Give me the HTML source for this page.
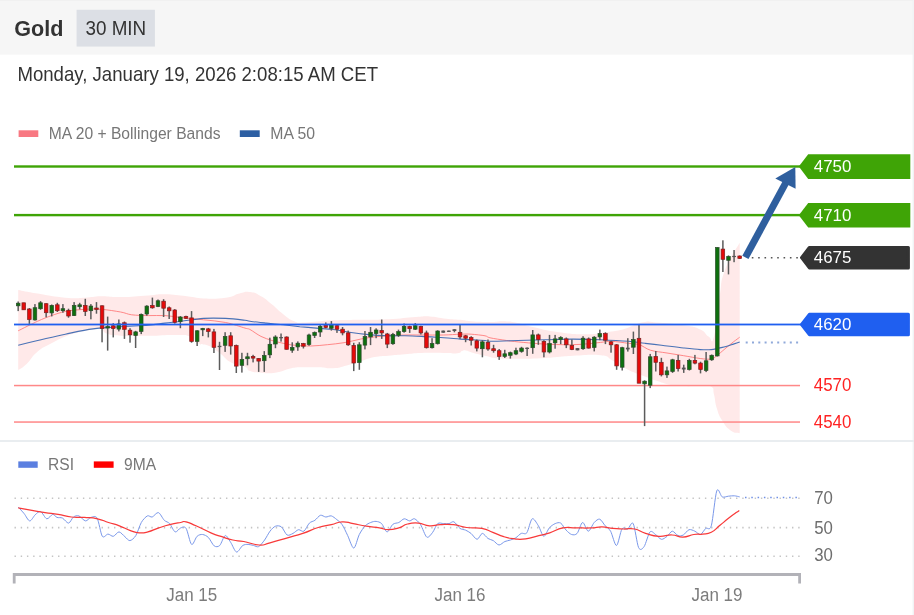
<!DOCTYPE html>
<html><head><meta charset="utf-8"><title>Gold 30 MIN</title>
<style>
html,body{margin:0;padding:0;background:#fff}
body{width:914px;height:615px;overflow:hidden;font-family:"Liberation Sans",sans-serif}
svg{display:block}
text{font-family:"Liberation Sans",sans-serif}
</style></head><body>
<svg width="914" height="615" viewBox="0 0 914 615">
<defs><filter id="soft" x="-2%" y="-2%" width="104%" height="104%" color-interpolation-filters="sRGB"><feGaussianBlur stdDeviation="0.42"/></filter></defs>
<g filter="url(#soft)">
<rect x="-10" y="-10" width="934" height="635" fill="#fff"/>
<rect x="-10" y="-10" width="934" height="64.6" fill="#f6f6f6"/>
<rect x="-10" y="-10" width="934" height="11" fill="#f1f1f1"/>
<rect x="912.6" y="-10" width="11.4" height="635" fill="#f1f3f5"/>
<text transform="translate(14.3,36.2) scale(1,1.05)" font-size="21.6" font-weight="bold" fill="#333">Gold</text>
<rect x="76.6" y="9.8" width="78.3" height="36.8" fill="#dcdfe5"/>
<text transform="translate(115.8,34.9) scale(1,1.05)" font-size="18.85" text-anchor="middle" fill="#333">30 MIN</text>
<text transform="translate(17.4,81.4) scale(1,1.05)" font-size="18.62" fill="#333">Monday, January 19, 2026 2:08:15 AM CET</text>
<rect x="18.6" y="130.3" width="19.7" height="6.7" fill="#f87882"/>
<text transform="translate(48.8,138.8) scale(1,1.05)" font-size="15.65" fill="#777">MA 20 + Bollinger Bands</text>
<rect x="239.8" y="130.3" width="19.9" height="6.7" fill="#2d5fa3"/>
<text transform="translate(270.3,138.8) scale(1,1.05)" font-size="15.8" fill="#777">MA 50</text>

<path d="M18.2,289.9 C23.4,290.9 25.1,291.4 37.7,293.5 C50.3,295.6 52.8,296.6 65.3,297.7 C77.8,298.8 75.1,298.1 84.7,297.7 C94.3,297.3 91.7,296.5 101.3,296.3 C110.9,296.1 108.1,297.3 120.6,297.1 C133.1,296.9 136.5,296.1 148.3,295.4 C160.1,294.7 154.6,294.1 164.9,294.3 C175.2,294.5 176.7,295.2 187.0,296.3 C197.3,297.4 193.3,298.1 203.6,298.5 C213.9,298.9 216.1,299.0 225.7,297.7 C235.3,296.4 233.0,295.0 239.5,293.5 C246.0,292.0 244.3,291.4 250.0,292.1 C255.7,292.8 255.1,293.0 261.0,296.3 C266.9,299.6 266.2,299.8 272.1,304.6 C278.0,309.4 277.3,309.8 283.2,314.2 C289.1,318.6 288.3,319.0 294.2,321.2 C300.1,323.4 295.0,322.7 305.3,322.5 C315.6,322.3 318.3,321.0 333.0,320.3 C347.7,319.6 345.9,320.1 360.6,319.8 C375.3,319.5 373.6,319.9 388.3,319.2 C403.0,318.5 404.8,317.7 415.9,317.0 C427.0,316.3 422.4,316.1 429.8,316.5 C437.2,316.9 435.5,317.5 443.6,318.4 C451.7,319.3 452.8,319.1 460.2,319.8 C467.6,320.5 463.3,320.6 471.2,321.2 C479.1,321.8 481.3,322.0 490.0,322.0 C498.7,322.0 496.4,320.9 503.8,321.2 C511.2,321.5 510.3,321.6 517.7,323.1 C525.1,324.6 520.5,324.3 531.5,326.7 C542.5,329.1 544.4,330.2 559.1,332.2 C573.8,334.2 574.2,334.2 586.8,334.2 C599.4,334.2 596.6,333.5 606.2,332.2 C615.8,330.9 615.3,331.3 622.7,329.5 C630.1,327.7 627.9,327.3 633.8,325.3 C639.7,323.3 639.0,322.7 644.9,322.0 C650.8,321.3 645.6,321.6 655.9,322.5 C666.2,323.4 671.8,323.4 683.6,325.3 C695.4,327.2 693.6,326.5 700.2,329.5 C706.8,332.5 704.8,334.6 708.5,336.4 C712.2,338.2 711.1,346.7 714.0,336.4 C716.9,326.1 716.6,315.4 719.5,297.7 C722.4,280.0 719.6,284.7 725.0,270.0 C730.4,255.3 735.8,250.0 739.7,242.7 L739.7,433.2 C737.3,432.5 735.2,433.7 730.6,430.4 C726.0,427.1 726.0,426.6 722.3,420.7 C718.6,414.8 719.0,415.3 716.8,408.3 C714.6,401.3 715.5,400.2 714.0,394.4 C712.5,388.6 714.9,388.9 711.2,386.7 C707.5,384.5 707.6,386.3 700.2,386.1 C692.8,385.9 691.7,386.4 683.6,386.1 C675.5,385.8 677.2,386.3 669.8,384.8 C662.4,383.3 662.5,382.8 655.9,380.6 C649.3,378.4 650.8,378.7 644.9,376.5 C639.0,374.3 640.4,375.3 633.8,372.3 C627.2,369.3 625.9,368.7 620.0,365.4 C614.1,362.1 616.9,362.6 611.7,359.9 C606.5,357.2 610.9,356.3 600.6,355.2 C590.3,354.1 587.7,355.0 573.0,355.7 C558.3,356.4 560.0,357.1 545.3,357.9 C530.6,358.7 530.0,358.6 517.7,358.8 C505.4,359.0 507.5,359.3 499.0,358.6 C490.5,357.9 493.0,357.6 486.0,356.0 C479.0,354.4 478.0,354.2 472.7,352.7 C467.4,351.2 468.9,351.0 466.0,350.5 C463.1,350.0 464.3,350.3 462.0,351.0 C459.7,351.7 462.3,352.8 457.4,353.3 C452.5,353.8 453.2,353.1 443.6,353.0 C434.0,352.9 431.8,352.7 421.5,353.0 C411.2,353.3 413.8,353.6 404.9,354.3 C396.0,355.0 396.4,355.0 388.3,355.7 C380.2,356.4 381.8,355.6 374.4,357.1 C367.0,358.6 368.0,359.1 360.6,361.3 C353.2,363.5 354.2,363.6 346.8,365.4 C339.4,367.2 340.4,367.7 333.0,368.2 C325.6,368.7 326.5,367.5 319.1,367.3 C311.7,367.1 312.7,367.1 305.3,367.3 C297.9,367.5 298.9,366.9 291.5,368.2 C284.1,369.5 285.1,371.0 277.7,372.3 C270.3,373.6 271.2,373.3 263.8,372.9 C256.4,372.5 255.0,372.5 250.0,370.9 C245.0,369.3 250.1,369.0 245.1,366.8 C240.1,364.6 238.0,366.3 231.2,362.6 C224.4,358.9 225.5,357.4 219.6,353.0 C213.7,348.6 214.8,348.6 209.1,346.0 C203.4,343.4 203.2,345.9 198.1,343.3 C193.0,340.7 195.7,338.6 189.8,336.4 C183.9,334.2 187.0,335.2 175.9,335.0 C164.8,334.8 163.0,335.6 148.3,335.8 C133.6,336.0 131.7,336.4 120.6,335.8 C109.5,335.2 111.9,335.4 106.8,333.6 C101.7,331.8 105.0,330.0 101.3,328.9 C97.6,327.8 98.9,328.6 93.0,329.5 C87.1,330.4 86.5,330.4 79.1,332.2 C71.7,334.0 72.7,333.4 65.3,336.4 C57.9,339.4 58.9,339.2 51.5,343.3 C44.1,347.4 44.3,346.1 37.7,351.6 C31.1,357.1 31.8,359.1 26.6,364.0 C21.4,368.9 20.4,368.5 18.2,370.1 Z" fill="#ffe9e9"/>
<rect x="14" y="384.8" width="786" height="1.5" fill="#f88"/>
<rect x="14" y="421.3" width="786" height="1.5" fill="#f88"/>
<rect x="14" y="165.3" width="800" height="2.4" fill="#3fa406"/>
<rect x="14" y="213.9" width="800" height="2.4" fill="#3fa406"/>
<path d="M18.2,330.8 C21.4,329.2 32.2,323.7 37.7,321.2 C43.2,318.7 46.9,317.2 51.5,315.6 C56.1,314.0 59.8,312.6 65.3,311.5 C70.8,310.4 78.7,309.7 84.7,309.3 C90.7,308.9 95.3,308.9 101.3,309.3 C107.3,309.8 115.5,311.1 120.6,312.0 C125.7,312.9 127.1,314.2 131.7,314.8 C136.3,315.4 142.8,315.5 148.3,315.6 C153.8,315.7 159.4,315.3 164.9,315.6 C170.4,315.9 175.1,316.9 181.5,317.6 C187.9,318.3 196.2,319.0 203.6,319.8 C211.0,320.6 218.8,321.1 225.7,322.5 C232.6,323.9 240.9,326.9 245.0,328.1 C249.1,329.3 247.3,328.1 250.0,329.5 C252.7,330.9 257.3,334.6 261.0,336.4 C264.7,338.2 268.4,339.4 272.1,340.5 C275.8,341.6 279.5,342.5 283.2,343.3 C286.9,344.1 289.6,344.8 294.2,345.2 C298.8,345.6 305.3,346.1 310.8,346.0 C316.3,345.9 321.9,345.2 327.4,344.7 C332.9,344.1 338.5,343.6 344.0,342.7 C349.5,341.8 355.5,340.1 360.6,339.1 C365.7,338.1 369.8,337.4 374.4,336.9 C379.0,336.3 383.2,336.1 388.3,335.8 C393.4,335.5 399.4,335.1 404.9,335.0 C410.4,334.9 415.1,335.0 421.5,335.0 C427.9,335.0 437.2,335.1 443.6,335.0 C450.1,334.9 455.6,334.3 460.2,334.2 C464.8,334.1 467.1,333.9 471.2,334.2 C475.3,334.5 481.9,335.2 485.0,335.8 C488.1,336.4 486.4,337.0 490.0,337.8 C493.6,338.6 501.1,339.7 506.6,340.5 C512.1,341.3 516.8,341.8 523.2,342.4 C529.7,343.0 537.9,343.7 545.3,344.1 C552.7,344.5 560.9,344.7 567.4,344.7 C573.9,344.7 578.5,344.5 584.0,344.1 C589.5,343.7 596.0,342.9 600.6,342.4 C605.2,341.9 607.1,341.1 611.7,341.3 C616.3,341.5 623.7,342.7 628.3,343.3 C632.9,343.9 635.6,343.6 639.3,344.7 C643.0,345.8 645.8,348.8 650.4,350.2 C655.0,351.6 661.5,352.1 667.0,353.0 C672.5,353.9 678.1,354.8 683.6,355.7 C689.1,356.6 695.6,357.9 700.2,358.5 C704.8,359.1 708.4,359.5 711.2,359.0 C714.0,358.5 714.5,357.4 716.8,355.7 C719.1,354.0 722.2,351.1 725.0,348.8 C727.8,346.5 730.9,343.8 733.4,341.9 C735.9,340.0 738.7,338.0 739.7,337.2" fill="none" stroke="#f77" stroke-width="1.0" stroke-linejoin="round" opacity="0.85"/>
<path d="M18.2,345.2 C21.4,344.4 29.9,342.3 37.7,340.5 C45.6,338.7 56.1,336.1 65.3,334.2 C74.5,332.3 83.8,330.1 93.0,328.9 C102.2,327.6 111.4,327.3 120.6,326.7 C129.8,326.1 140.9,325.9 148.3,325.3 C155.7,324.7 159.4,323.8 164.9,323.1 C170.4,322.4 175.1,322.0 181.5,321.2 C187.9,320.4 196.2,318.9 203.6,318.4 C211.0,317.9 218.8,318.1 225.7,318.4 C232.6,318.7 240.9,319.8 245.0,320.3 C249.1,320.8 246.4,320.7 250.0,321.2 C253.6,321.7 261.1,322.5 266.6,323.1 C272.1,323.7 277.7,324.2 283.2,324.8 C288.7,325.4 294.3,326.1 299.8,326.7 C305.3,327.2 310.9,327.6 316.4,328.1 C321.9,328.6 327.5,328.8 333.0,329.5 C338.5,330.2 344.1,331.4 349.6,332.2 C355.1,333.0 359.8,333.8 366.2,334.4 C372.6,335.0 381.9,335.6 388.3,335.8 C394.8,336.0 399.4,335.7 404.9,335.8 C410.4,335.9 415.1,336.1 421.5,336.4 C427.9,336.7 437.2,337.4 443.6,337.8 C450.1,338.2 455.6,338.8 460.2,339.1 C464.8,339.4 467.1,339.5 471.2,339.7 C475.3,339.9 481.9,340.2 485.0,340.5 C488.1,340.8 484.6,341.3 490.0,341.3 C495.4,341.3 508.5,340.8 517.7,340.5 C526.9,340.2 536.1,339.9 545.3,339.7 C554.5,339.5 563.8,339.1 573.0,339.1 C582.2,339.1 591.4,339.3 600.6,339.7 C609.8,340.1 620.9,340.7 628.3,341.3 C635.7,341.9 639.4,342.7 644.9,343.3 C650.4,343.9 655.0,344.4 661.5,345.2 C668.0,346.0 677.1,347.3 683.6,348.0 C690.1,348.7 695.6,349.3 700.2,349.6 C704.8,349.9 707.5,350.0 711.2,349.6 C714.9,349.2 718.6,348.3 722.3,347.4 C726.0,346.5 730.5,345.0 733.4,344.1 C736.3,343.2 738.7,342.3 739.7,341.9" fill="none" stroke="#3565b0" stroke-width="1.1" stroke-linejoin="round" opacity="0.9"/>
<rect x="17.42" y="301.5" width="1.5" height="9.6" fill="#5c5c5c"/>
<rect x="16.37" y="303.2" width="3.6" height="2.6" fill="#0e700e" stroke="#2d4a2d" stroke-width="0.7"/>
<rect x="23.01" y="302.8" width="1.5" height="7.0" fill="#5c5c5c"/>
<rect x="21.96" y="302.8" width="3.6" height="7.0" fill="#e60a0a" stroke="#7a2222" stroke-width="0.7"/>
<rect x="28.61" y="308.0" width="1.5" height="15.9" fill="#5c5c5c"/>
<rect x="27.56" y="309.0" width="3.6" height="10.5" fill="#e60a0a" stroke="#7a2222" stroke-width="0.7"/>
<rect x="34.20" y="304.1" width="1.5" height="16.5" fill="#5c5c5c"/>
<rect x="33.15" y="307.7" width="3.6" height="12.2" fill="#0e700e" stroke="#2d4a2d" stroke-width="0.7"/>
<rect x="39.79" y="301.1" width="1.5" height="8.7" fill="#5c5c5c"/>
<rect x="38.74" y="302.8" width="3.6" height="5.9" fill="#0e700e" stroke="#2d4a2d" stroke-width="0.7"/>
<rect x="45.39" y="303.2" width="1.5" height="14.1" fill="#5c5c5c"/>
<rect x="44.34" y="303.7" width="3.6" height="9.0" fill="#e60a0a" stroke="#7a2222" stroke-width="0.7"/>
<rect x="50.98" y="304.5" width="1.5" height="11.9" fill="#5c5c5c"/>
<rect x="49.93" y="305.4" width="3.6" height="7.5" fill="#0e700e" stroke="#2d4a2d" stroke-width="0.7"/>
<rect x="56.57" y="302.8" width="1.5" height="9.2" fill="#5c5c5c"/>
<rect x="55.52" y="304.8" width="3.6" height="5.9" fill="#e60a0a" stroke="#7a2222" stroke-width="0.7"/>
<rect x="62.16" y="304.1" width="1.5" height="8.6" fill="#5c5c5c"/>
<rect x="61.11" y="308.7" width="3.6" height="2.0" fill="#0e700e" stroke="#2d4a2d" stroke-width="0.7"/>
<rect x="67.76" y="308.7" width="1.5" height="9.0" fill="#5c5c5c"/>
<rect x="66.71" y="310.3" width="3.6" height="5.7" fill="#e60a0a" stroke="#7a2222" stroke-width="0.7"/>
<rect x="73.35" y="302.1" width="1.5" height="13.9" fill="#5c5c5c"/>
<rect x="72.30" y="305.4" width="3.6" height="10.2" fill="#0e700e" stroke="#2d4a2d" stroke-width="0.7"/>
<rect x="78.94" y="302.8" width="1.5" height="6.6" fill="#5c5c5c"/>
<rect x="77.89" y="304.8" width="3.6" height="1.9" fill="#0e700e" stroke="#2d4a2d" stroke-width="0.7"/>
<rect x="84.54" y="298.8" width="1.5" height="17.2" fill="#5c5c5c"/>
<rect x="83.49" y="305.4" width="3.6" height="6.0" fill="#e60a0a" stroke="#7a2222" stroke-width="0.7"/>
<rect x="90.13" y="304.1" width="1.5" height="15.2" fill="#5c5c5c"/>
<rect x="89.08" y="306.1" width="3.6" height="4.6" fill="#0e700e" stroke="#2d4a2d" stroke-width="0.7"/>
<rect x="95.72" y="302.1" width="1.5" height="11.6" fill="#5c5c5c"/>
<rect x="94.67" y="308.0" width="3.6" height="1.4" fill="#e60a0a" stroke="#7a2222" stroke-width="0.7"/>
<rect x="101.31" y="305.4" width="1.5" height="36.9" fill="#5c5c5c"/>
<rect x="100.27" y="305.8" width="3.6" height="22.7" fill="#e60a0a" stroke="#7a2222" stroke-width="0.7"/>
<rect x="106.91" y="316.6" width="1.5" height="34.0" fill="#5c5c5c"/>
<rect x="105.86" y="326.5" width="3.6" height="1.5" fill="#0e700e" stroke="#2d4a2d" stroke-width="0.7"/>
<rect x="112.50" y="323.2" width="1.5" height="14.2" fill="#5c5c5c"/>
<rect x="111.45" y="325.8" width="3.6" height="2.7" fill="#e60a0a" stroke="#7a2222" stroke-width="0.7"/>
<rect x="118.09" y="319.5" width="1.5" height="11.9" fill="#5c5c5c"/>
<rect x="117.04" y="323.9" width="3.6" height="5.2" fill="#0e700e" stroke="#2d4a2d" stroke-width="0.7"/>
<rect x="123.69" y="321.5" width="1.5" height="17.4" fill="#5c5c5c"/>
<rect x="122.64" y="322.8" width="3.6" height="6.5" fill="#e60a0a" stroke="#7a2222" stroke-width="0.7"/>
<rect x="129.28" y="328.2" width="1.5" height="14.5" fill="#5c5c5c"/>
<rect x="128.23" y="330.2" width="3.6" height="4.6" fill="#e60a0a" stroke="#7a2222" stroke-width="0.7"/>
<rect x="134.87" y="330.8" width="1.5" height="17.2" fill="#5c5c5c"/>
<rect x="133.82" y="331.9" width="3.6" height="3.6" fill="#0e700e" stroke="#2d4a2d" stroke-width="0.7"/>
<rect x="140.47" y="313.5" width="1.5" height="20.6" fill="#5c5c5c"/>
<rect x="139.42" y="314.4" width="3.6" height="17.1" fill="#0e700e" stroke="#2d4a2d" stroke-width="0.7"/>
<rect x="146.06" y="305.2" width="1.5" height="10.5" fill="#5c5c5c"/>
<rect x="145.01" y="306.1" width="3.6" height="7.9" fill="#0e700e" stroke="#2d4a2d" stroke-width="0.7"/>
<rect x="151.65" y="297.6" width="1.5" height="11.1" fill="#5c5c5c"/>
<rect x="150.60" y="305.5" width="3.6" height="2.3" fill="#e60a0a" stroke="#7a2222" stroke-width="0.7"/>
<rect x="157.25" y="299.5" width="1.5" height="7.6" fill="#5c5c5c"/>
<rect x="156.19" y="300.8" width="3.6" height="5.7" fill="#0e700e" stroke="#2d4a2d" stroke-width="0.7"/>
<rect x="162.84" y="299.2" width="1.5" height="17.8" fill="#5c5c5c"/>
<rect x="161.79" y="301.2" width="3.6" height="7.0" fill="#e60a0a" stroke="#7a2222" stroke-width="0.7"/>
<rect x="168.43" y="306.5" width="1.5" height="12.5" fill="#5c5c5c"/>
<rect x="167.38" y="307.8" width="3.6" height="3.0" fill="#e60a0a" stroke="#7a2222" stroke-width="0.7"/>
<rect x="174.02" y="309.1" width="1.5" height="14.5" fill="#5c5c5c"/>
<rect x="172.97" y="310.0" width="3.6" height="12.3" fill="#e60a0a" stroke="#7a2222" stroke-width="0.7"/>
<rect x="179.62" y="316.1" width="1.5" height="12.1" fill="#5c5c5c"/>
<rect x="178.57" y="317.0" width="3.6" height="4.6" fill="#0e700e" stroke="#2d4a2d" stroke-width="0.7"/>
<rect x="185.21" y="315.7" width="1.5" height="3.3" fill="#5c5c5c"/>
<rect x="184.16" y="316.4" width="3.6" height="1.9" fill="#e60a0a" stroke="#7a2222" stroke-width="0.7"/>
<rect x="190.80" y="311.1" width="1.5" height="31.6" fill="#5c5c5c"/>
<rect x="189.75" y="317.9" width="3.6" height="23.5" fill="#e60a0a" stroke="#7a2222" stroke-width="0.7"/>
<rect x="196.40" y="330.2" width="1.5" height="15.8" fill="#5c5c5c"/>
<rect x="195.35" y="330.8" width="3.6" height="10.6" fill="#0e700e" stroke="#2d4a2d" stroke-width="0.7"/>
<rect x="201.99" y="327.9" width="1.5" height="8.2" fill="#5c5c5c"/>
<rect x="200.94" y="328.5" width="3.6" height="1.3" fill="#0e700e" stroke="#2d4a2d" stroke-width="0.7"/>
<rect x="207.58" y="327.9" width="1.5" height="9.5" fill="#5c5c5c"/>
<rect x="206.53" y="328.9" width="3.6" height="2.6" fill="#e60a0a" stroke="#7a2222" stroke-width="0.7"/>
<rect x="213.18" y="328.9" width="1.5" height="24.1" fill="#5c5c5c"/>
<rect x="212.12" y="331.9" width="3.6" height="15.4" fill="#e60a0a" stroke="#7a2222" stroke-width="0.7"/>
<rect x="218.77" y="341.8" width="1.5" height="28.2" fill="#5c5c5c"/>
<rect x="217.62" y="345.8" width="3.8" height="1.3" fill="#555"/>
<rect x="224.36" y="332.2" width="1.5" height="19.7" fill="#5c5c5c"/>
<rect x="223.31" y="336.4" width="3.6" height="8.9" fill="#0e700e" stroke="#2d4a2d" stroke-width="0.7"/>
<rect x="229.95" y="332.2" width="1.5" height="22.4" fill="#5c5c5c"/>
<rect x="228.90" y="335.8" width="3.6" height="10.2" fill="#e60a0a" stroke="#7a2222" stroke-width="0.7"/>
<rect x="235.55" y="344.6" width="1.5" height="28.4" fill="#5c5c5c"/>
<rect x="234.50" y="345.6" width="3.6" height="20.5" fill="#e60a0a" stroke="#7a2222" stroke-width="0.7"/>
<rect x="241.14" y="352.8" width="1.5" height="19.8" fill="#5c5c5c"/>
<rect x="240.09" y="359.4" width="3.6" height="5.9" fill="#0e700e" stroke="#2d4a2d" stroke-width="0.7"/>
<rect x="246.73" y="352.8" width="1.5" height="12.5" fill="#5c5c5c"/>
<rect x="245.68" y="356.8" width="3.6" height="1.9" fill="#0e700e" stroke="#2d4a2d" stroke-width="0.7"/>
<rect x="252.33" y="354.8" width="1.5" height="7.6" fill="#5c5c5c"/>
<rect x="251.28" y="356.4" width="3.6" height="1.7" fill="#e60a0a" stroke="#7a2222" stroke-width="0.7"/>
<rect x="257.92" y="358.1" width="1.5" height="13.8" fill="#5c5c5c"/>
<rect x="256.87" y="358.5" width="3.6" height="2.6" fill="#e60a0a" stroke="#7a2222" stroke-width="0.7"/>
<rect x="263.51" y="351.1" width="1.5" height="20.8" fill="#5c5c5c"/>
<rect x="262.46" y="355.5" width="3.6" height="5.2" fill="#0e700e" stroke="#2d4a2d" stroke-width="0.7"/>
<rect x="269.11" y="337.7" width="1.5" height="20.4" fill="#5c5c5c"/>
<rect x="268.06" y="344.3" width="3.6" height="10.5" fill="#0e700e" stroke="#2d4a2d" stroke-width="0.7"/>
<rect x="274.70" y="335.3" width="1.5" height="12.9" fill="#5c5c5c"/>
<rect x="273.65" y="337.0" width="3.6" height="7.0" fill="#0e700e" stroke="#2d4a2d" stroke-width="0.7"/>
<rect x="280.29" y="333.5" width="1.5" height="8.1" fill="#5c5c5c"/>
<rect x="279.14" y="337.0" width="3.8" height="1.3" fill="#555"/>
<rect x="285.88" y="336.4" width="1.5" height="13.1" fill="#5c5c5c"/>
<rect x="284.83" y="337.0" width="3.6" height="12.3" fill="#e60a0a" stroke="#7a2222" stroke-width="0.7"/>
<rect x="291.48" y="342.3" width="1.5" height="10.5" fill="#5c5c5c"/>
<rect x="290.43" y="347.5" width="3.6" height="2.7" fill="#0e700e" stroke="#2d4a2d" stroke-width="0.7"/>
<rect x="297.07" y="341.4" width="1.5" height="9.4" fill="#5c5c5c"/>
<rect x="296.02" y="343.2" width="3.6" height="3.7" fill="#0e700e" stroke="#2d4a2d" stroke-width="0.7"/>
<rect x="302.66" y="342.9" width="1.5" height="5.6" fill="#5c5c5c"/>
<rect x="301.61" y="343.6" width="3.6" height="2.6" fill="#e60a0a" stroke="#7a2222" stroke-width="0.7"/>
<rect x="308.26" y="333.7" width="1.5" height="12.1" fill="#5c5c5c"/>
<rect x="307.21" y="335.0" width="3.6" height="9.5" fill="#0e700e" stroke="#2d4a2d" stroke-width="0.7"/>
<rect x="313.85" y="331.5" width="1.5" height="6.5" fill="#5c5c5c"/>
<rect x="312.80" y="332.5" width="3.6" height="3.0" fill="#0e700e" stroke="#2d4a2d" stroke-width="0.7"/>
<rect x="319.44" y="325.0" width="1.5" height="11.9" fill="#5c5c5c"/>
<rect x="318.39" y="326.3" width="3.6" height="5.7" fill="#0e700e" stroke="#2d4a2d" stroke-width="0.7"/>
<rect x="325.04" y="322.4" width="1.5" height="5.9" fill="#5c5c5c"/>
<rect x="323.99" y="325.3" width="3.6" height="2.1" fill="#e60a0a" stroke="#7a2222" stroke-width="0.7"/>
<rect x="330.63" y="321.1" width="1.5" height="9.5" fill="#5c5c5c"/>
<rect x="329.58" y="325.0" width="3.6" height="3.3" fill="#0e700e" stroke="#2d4a2d" stroke-width="0.7"/>
<rect x="336.22" y="324.8" width="1.5" height="8.1" fill="#5c5c5c"/>
<rect x="335.17" y="325.7" width="3.6" height="3.5" fill="#e60a0a" stroke="#7a2222" stroke-width="0.7"/>
<rect x="341.81" y="327.0" width="1.5" height="8.3" fill="#5c5c5c"/>
<rect x="340.76" y="329.2" width="3.6" height="3.7" fill="#e60a0a" stroke="#7a2222" stroke-width="0.7"/>
<rect x="347.41" y="330.6" width="1.5" height="15.2" fill="#5c5c5c"/>
<rect x="346.36" y="332.9" width="3.6" height="11.9" fill="#e60a0a" stroke="#7a2222" stroke-width="0.7"/>
<rect x="353.00" y="342.8" width="1.5" height="28.3" fill="#5c5c5c"/>
<rect x="351.95" y="345.5" width="3.6" height="17.5" fill="#e60a0a" stroke="#7a2222" stroke-width="0.7"/>
<rect x="358.59" y="342.2" width="1.5" height="27.6" fill="#5c5c5c"/>
<rect x="357.54" y="344.8" width="3.6" height="17.8" fill="#0e700e" stroke="#2d4a2d" stroke-width="0.7"/>
<rect x="364.19" y="331.0" width="1.5" height="18.4" fill="#5c5c5c"/>
<rect x="363.14" y="336.6" width="3.6" height="8.5" fill="#0e700e" stroke="#2d4a2d" stroke-width="0.7"/>
<rect x="369.78" y="327.0" width="1.5" height="18.1" fill="#5c5c5c"/>
<rect x="368.73" y="332.3" width="3.6" height="4.6" fill="#0e700e" stroke="#2d4a2d" stroke-width="0.7"/>
<rect x="375.37" y="328.3" width="1.5" height="9.9" fill="#5c5c5c"/>
<rect x="374.32" y="330.0" width="3.6" height="3.6" fill="#0e700e" stroke="#2d4a2d" stroke-width="0.7"/>
<rect x="380.97" y="319.5" width="1.5" height="19.4" fill="#5c5c5c"/>
<rect x="379.92" y="330.6" width="3.6" height="2.3" fill="#e60a0a" stroke="#7a2222" stroke-width="0.7"/>
<rect x="386.56" y="332.9" width="1.5" height="15.2" fill="#5c5c5c"/>
<rect x="385.51" y="334.0" width="3.6" height="10.1" fill="#e60a0a" stroke="#7a2222" stroke-width="0.7"/>
<rect x="392.15" y="332.9" width="1.5" height="11.9" fill="#5c5c5c"/>
<rect x="391.10" y="334.5" width="3.6" height="9.2" fill="#0e700e" stroke="#2d4a2d" stroke-width="0.7"/>
<rect x="397.74" y="329.6" width="1.5" height="7.3" fill="#5c5c5c"/>
<rect x="396.69" y="331.6" width="3.6" height="3.7" fill="#0e700e" stroke="#2d4a2d" stroke-width="0.7"/>
<rect x="403.34" y="323.5" width="1.5" height="9.2" fill="#5c5c5c"/>
<rect x="402.29" y="326.4" width="3.6" height="5.2" fill="#0e700e" stroke="#2d4a2d" stroke-width="0.7"/>
<rect x="408.93" y="325.7" width="1.5" height="7.2" fill="#5c5c5c"/>
<rect x="407.88" y="326.6" width="3.6" height="2.1" fill="#e60a0a" stroke="#7a2222" stroke-width="0.7"/>
<rect x="414.52" y="323.1" width="1.5" height="6.9" fill="#5c5c5c"/>
<rect x="413.47" y="325.7" width="3.6" height="3.5" fill="#0e700e" stroke="#2d4a2d" stroke-width="0.7"/>
<rect x="420.12" y="325.7" width="1.5" height="8.8" fill="#5c5c5c"/>
<rect x="419.07" y="326.6" width="3.6" height="6.3" fill="#e60a0a" stroke="#7a2222" stroke-width="0.7"/>
<rect x="425.71" y="330.6" width="1.5" height="17.9" fill="#5c5c5c"/>
<rect x="424.66" y="332.9" width="3.6" height="14.8" fill="#e60a0a" stroke="#7a2222" stroke-width="0.7"/>
<rect x="431.30" y="338.2" width="1.5" height="10.3" fill="#5c5c5c"/>
<rect x="430.25" y="343.5" width="3.6" height="4.2" fill="#0e700e" stroke="#2d4a2d" stroke-width="0.7"/>
<rect x="436.90" y="330.3" width="1.5" height="14.2" fill="#5c5c5c"/>
<rect x="435.85" y="331.0" width="3.6" height="12.7" fill="#0e700e" stroke="#2d4a2d" stroke-width="0.7"/>
<rect x="442.49" y="330.6" width="1.5" height="2.1" fill="#5c5c5c"/>
<rect x="441.34" y="330.6" width="3.8" height="2.1" fill="#555"/>
<rect x="448.08" y="330.6" width="1.5" height="1.3" fill="#5c5c5c"/>
<rect x="446.93" y="330.6" width="3.8" height="1.3" fill="#555"/>
<rect x="453.67" y="329.2" width="1.5" height="3.1" fill="#5c5c5c"/>
<rect x="452.52" y="329.2" width="3.8" height="1.8" fill="#555"/>
<rect x="459.27" y="324.4" width="1.5" height="14.5" fill="#5c5c5c"/>
<rect x="458.22" y="332.3" width="3.6" height="4.6" fill="#e60a0a" stroke="#7a2222" stroke-width="0.7"/>
<rect x="464.86" y="334.9" width="1.5" height="7.3" fill="#5c5c5c"/>
<rect x="463.81" y="335.8" width="3.6" height="2.4" fill="#e60a0a" stroke="#7a2222" stroke-width="0.7"/>
<rect x="470.45" y="336.2" width="1.5" height="9.3" fill="#5c5c5c"/>
<rect x="469.40" y="337.5" width="3.6" height="2.7" fill="#e60a0a" stroke="#7a2222" stroke-width="0.7"/>
<rect x="476.05" y="339.5" width="1.5" height="11.9" fill="#5c5c5c"/>
<rect x="475.00" y="340.8" width="3.6" height="7.3" fill="#e60a0a" stroke="#7a2222" stroke-width="0.7"/>
<rect x="481.64" y="340.2" width="1.5" height="17.1" fill="#5c5c5c"/>
<rect x="480.59" y="341.9" width="3.6" height="6.8" fill="#0e700e" stroke="#2d4a2d" stroke-width="0.7"/>
<rect x="487.23" y="339.5" width="1.5" height="11.2" fill="#5c5c5c"/>
<rect x="486.18" y="342.4" width="3.6" height="6.6" fill="#e60a0a" stroke="#7a2222" stroke-width="0.7"/>
<rect x="492.82" y="344.8" width="1.5" height="7.9" fill="#5c5c5c"/>
<rect x="491.77" y="348.7" width="3.6" height="2.0" fill="#e60a0a" stroke="#7a2222" stroke-width="0.7"/>
<rect x="498.42" y="349.0" width="1.5" height="10.9" fill="#5c5c5c"/>
<rect x="497.37" y="350.7" width="3.6" height="5.7" fill="#e60a0a" stroke="#7a2222" stroke-width="0.7"/>
<rect x="504.01" y="349.8" width="1.5" height="8.2" fill="#5c5c5c"/>
<rect x="502.96" y="353.8" width="3.6" height="2.6" fill="#0e700e" stroke="#2d4a2d" stroke-width="0.7"/>
<rect x="509.60" y="351.6" width="1.5" height="7.0" fill="#5c5c5c"/>
<rect x="508.55" y="352.7" width="3.6" height="2.6" fill="#0e700e" stroke="#2d4a2d" stroke-width="0.7"/>
<rect x="515.20" y="347.7" width="1.5" height="7.4" fill="#5c5c5c"/>
<rect x="514.15" y="350.7" width="3.6" height="3.3" fill="#0e700e" stroke="#2d4a2d" stroke-width="0.7"/>
<rect x="520.79" y="346.8" width="1.5" height="5.9" fill="#5c5c5c"/>
<rect x="519.74" y="348.1" width="3.6" height="3.3" fill="#0e700e" stroke="#2d4a2d" stroke-width="0.7"/>
<rect x="526.38" y="347.4" width="1.5" height="8.6" fill="#5c5c5c"/>
<rect x="525.23" y="347.7" width="3.8" height="1.3" fill="#555"/>
<rect x="531.98" y="330.0" width="1.5" height="23.8" fill="#5c5c5c"/>
<rect x="530.93" y="334.9" width="3.6" height="12.8" fill="#0e700e" stroke="#2d4a2d" stroke-width="0.7"/>
<rect x="537.57" y="333.6" width="1.5" height="11.2" fill="#5c5c5c"/>
<rect x="536.52" y="334.9" width="3.6" height="4.6" fill="#e60a0a" stroke="#7a2222" stroke-width="0.7"/>
<rect x="543.16" y="340.2" width="1.5" height="17.1" fill="#5c5c5c"/>
<rect x="542.11" y="341.5" width="3.6" height="10.5" fill="#e60a0a" stroke="#7a2222" stroke-width="0.7"/>
<rect x="548.75" y="334.9" width="1.5" height="18.5" fill="#5c5c5c"/>
<rect x="547.71" y="343.5" width="3.6" height="8.5" fill="#0e700e" stroke="#2d4a2d" stroke-width="0.7"/>
<rect x="554.35" y="334.9" width="1.5" height="13.8" fill="#5c5c5c"/>
<rect x="553.30" y="338.9" width="3.6" height="3.9" fill="#0e700e" stroke="#2d4a2d" stroke-width="0.7"/>
<rect x="559.94" y="336.2" width="1.5" height="7.9" fill="#5c5c5c"/>
<rect x="558.89" y="337.5" width="3.6" height="2.0" fill="#0e700e" stroke="#2d4a2d" stroke-width="0.7"/>
<rect x="565.53" y="337.5" width="1.5" height="10.6" fill="#5c5c5c"/>
<rect x="564.48" y="338.9" width="3.6" height="5.9" fill="#e60a0a" stroke="#7a2222" stroke-width="0.7"/>
<rect x="571.13" y="339.5" width="1.5" height="10.6" fill="#5c5c5c"/>
<rect x="570.08" y="345.5" width="3.6" height="3.9" fill="#e60a0a" stroke="#7a2222" stroke-width="0.7"/>
<rect x="576.72" y="348.1" width="1.5" height="2.2" fill="#5c5c5c"/>
<rect x="575.57" y="348.1" width="3.8" height="2.2" fill="#555"/>
<rect x="582.31" y="336.2" width="1.5" height="13.6" fill="#5c5c5c"/>
<rect x="581.26" y="338.2" width="3.6" height="10.5" fill="#0e700e" stroke="#2d4a2d" stroke-width="0.7"/>
<rect x="587.91" y="337.5" width="1.5" height="11.0" fill="#5c5c5c"/>
<rect x="586.86" y="338.9" width="3.6" height="9.2" fill="#e60a0a" stroke="#7a2222" stroke-width="0.7"/>
<rect x="593.50" y="336.2" width="1.5" height="15.2" fill="#5c5c5c"/>
<rect x="592.45" y="337.2" width="3.6" height="10.2" fill="#0e700e" stroke="#2d4a2d" stroke-width="0.7"/>
<rect x="599.09" y="329.6" width="1.5" height="10.6" fill="#5c5c5c"/>
<rect x="598.04" y="333.6" width="3.6" height="3.3" fill="#0e700e" stroke="#2d4a2d" stroke-width="0.7"/>
<rect x="604.68" y="332.3" width="1.5" height="11.8" fill="#5c5c5c"/>
<rect x="603.63" y="333.6" width="3.6" height="6.6" fill="#e60a0a" stroke="#7a2222" stroke-width="0.7"/>
<rect x="610.28" y="340.8" width="1.5" height="11.9" fill="#5c5c5c"/>
<rect x="609.23" y="341.9" width="3.6" height="2.9" fill="#e60a0a" stroke="#7a2222" stroke-width="0.7"/>
<rect x="615.87" y="344.1" width="1.5" height="25.7" fill="#5c5c5c"/>
<rect x="614.82" y="344.8" width="3.6" height="21.1" fill="#e60a0a" stroke="#7a2222" stroke-width="0.7"/>
<rect x="621.46" y="346.8" width="1.5" height="23.7" fill="#5c5c5c"/>
<rect x="620.41" y="347.7" width="3.6" height="19.5" fill="#0e700e" stroke="#2d4a2d" stroke-width="0.7"/>
<rect x="627.06" y="338.2" width="1.5" height="13.4" fill="#5c5c5c"/>
<rect x="625.91" y="347.7" width="3.8" height="1.7" fill="#555"/>
<rect x="632.65" y="331.6" width="1.5" height="22.4" fill="#5c5c5c"/>
<rect x="631.60" y="339.5" width="3.6" height="7.7" fill="#0e700e" stroke="#2d4a2d" stroke-width="0.7"/>
<rect x="638.24" y="324.6" width="1.5" height="58.6" fill="#5c5c5c"/>
<rect x="637.19" y="338.3" width="3.6" height="44.9" fill="#e60a0a" stroke="#7a2222" stroke-width="0.7"/>
<rect x="643.84" y="380.3" width="1.5" height="45.8" fill="#5c5c5c"/>
<rect x="642.79" y="381.2" width="3.6" height="2.6" fill="#0e700e" stroke="#2d4a2d" stroke-width="0.7"/>
<rect x="649.43" y="353.9" width="1.5" height="34.2" fill="#5c5c5c"/>
<rect x="648.38" y="356.8" width="3.6" height="28.4" fill="#0e700e" stroke="#2d4a2d" stroke-width="0.7"/>
<rect x="655.02" y="351.0" width="1.5" height="20.5" fill="#5c5c5c"/>
<rect x="653.97" y="356.5" width="3.6" height="5.8" fill="#e60a0a" stroke="#7a2222" stroke-width="0.7"/>
<rect x="660.62" y="357.8" width="1.5" height="18.6" fill="#5c5c5c"/>
<rect x="659.57" y="362.3" width="3.6" height="12.5" fill="#e60a0a" stroke="#7a2222" stroke-width="0.7"/>
<rect x="666.21" y="366.6" width="1.5" height="11.3" fill="#5c5c5c"/>
<rect x="665.16" y="370.9" width="3.6" height="3.9" fill="#0e700e" stroke="#2d4a2d" stroke-width="0.7"/>
<rect x="671.80" y="358.8" width="1.5" height="14.1" fill="#5c5c5c"/>
<rect x="670.75" y="359.8" width="3.6" height="11.7" fill="#0e700e" stroke="#2d4a2d" stroke-width="0.7"/>
<rect x="677.39" y="354.9" width="1.5" height="16.6" fill="#5c5c5c"/>
<rect x="676.34" y="360.4" width="3.6" height="8.2" fill="#e60a0a" stroke="#7a2222" stroke-width="0.7"/>
<rect x="682.99" y="364.7" width="1.5" height="8.2" fill="#5c5c5c"/>
<rect x="681.84" y="367.6" width="3.8" height="1.9" fill="#555"/>
<rect x="688.58" y="358.8" width="1.5" height="11.7" fill="#5c5c5c"/>
<rect x="687.53" y="360.4" width="3.6" height="9.1" fill="#0e700e" stroke="#2d4a2d" stroke-width="0.7"/>
<rect x="694.17" y="354.9" width="1.5" height="9.4" fill="#5c5c5c"/>
<rect x="693.12" y="360.4" width="3.6" height="2.7" fill="#e60a0a" stroke="#7a2222" stroke-width="0.7"/>
<rect x="699.77" y="361.7" width="1.5" height="11.7" fill="#5c5c5c"/>
<rect x="698.72" y="363.1" width="3.6" height="6.4" fill="#e60a0a" stroke="#7a2222" stroke-width="0.7"/>
<rect x="705.36" y="352.0" width="1.5" height="20.1" fill="#5c5c5c"/>
<rect x="704.31" y="360.8" width="3.6" height="9.7" fill="#0e700e" stroke="#2d4a2d" stroke-width="0.7"/>
<rect x="710.95" y="354.5" width="1.5" height="6.3" fill="#5c5c5c"/>
<rect x="709.90" y="355.3" width="3.6" height="4.5" fill="#0e700e" stroke="#2d4a2d" stroke-width="0.7"/>
<rect x="716.54" y="247.2" width="1.5" height="109.3" fill="#5c5c5c"/>
<rect x="715.50" y="247.6" width="3.6" height="108.3" fill="#0e700e" stroke="#2d4a2d" stroke-width="0.7"/>
<rect x="722.14" y="240.3" width="1.5" height="31.7" fill="#5c5c5c"/>
<rect x="721.09" y="249.1" width="3.6" height="10.2" fill="#e60a0a" stroke="#7a2222" stroke-width="0.7"/>
<rect x="727.73" y="255.4" width="1.5" height="19.0" fill="#5c5c5c"/>
<rect x="726.68" y="256.4" width="3.6" height="3.9" fill="#0e700e" stroke="#2d4a2d" stroke-width="0.7"/>
<rect x="733.32" y="250.0" width="1.5" height="12.2" fill="#5c5c5c"/>
<rect x="732.17" y="255.9" width="3.8" height="1.2" fill="#555"/>
<rect x="738.92" y="255.5" width="1.5" height="3.3" fill="#5c5c5c"/>
<rect x="737.87" y="256.0" width="3.6" height="2.4" fill="#e60a0a" stroke="#7a2222" stroke-width="0.7"/>
<rect x="14" y="323.6" width="800" height="1.8" fill="#1f5ff0"/>
<line x1="751.8" y1="257.8" x2="799" y2="257.8" stroke="#555" stroke-width="1.6" stroke-dasharray="1.6 4.75"/>
<line x1="745.7" y1="342.5" x2="799" y2="342.5" stroke="#90a9da" stroke-width="2" stroke-dasharray="2 4.3"/>
<line x1="745.4" y1="257.4" x2="786" y2="182.4" stroke="#2f5f9e" stroke-width="7"/>
<polygon points="795.3,166.9 775.3,178.5 795.6,188.7" fill="#2f5f9e"/>
<path d="M798.8,166.6 L808.2,154.3 L910.3,154.3 L910.3,178.9 L808.2,178.9 Z" fill="#3fa406" stroke="#3fa406" stroke-width="0" stroke-linejoin="round"/>
<text transform="translate(813.8,171.8) scale(1,1.03)" font-size="16.9" fill="#fff">4750</text>
<path d="M798.8,215.2 L808.2,202.9 L910.3,202.9 L910.3,227.5 L808.2,227.5 Z" fill="#3fa406" stroke="#3fa406" stroke-width="0" stroke-linejoin="round"/>
<text transform="translate(813.8,221.4) scale(1,1.03)" font-size="16.9" fill="#fff">4710</text>
<path d="M801.5,257.7 L809.3100000000001,247.5 L908.4,247.5 L908.4,267.9 L809.3100000000001,267.9 Z" fill="#333" stroke="#333" stroke-width="3" stroke-linejoin="round"/>
<text transform="translate(813.8,263.4) scale(1,1.03)" font-size="16.9" fill="#fff">4675</text>
<path d="M801.5,324.5 L809.3100000000001,314.3 L908.4,314.3 L908.4,334.7 L809.3100000000001,334.7 Z" fill="#1f5ff0" stroke="#1f5ff0" stroke-width="3" stroke-linejoin="round"/>
<text transform="translate(813.8,330.2) scale(1,1.03)" font-size="16.9" fill="#fff">4620</text>
<text transform="translate(813.8,391) scale(1,1.05)" font-size="16.9" fill="#f22">4570</text>
<text transform="translate(813.8,427.6) scale(1,1.05)" font-size="16.9" fill="#f22">4540</text>
<rect x="-10" y="440" width="934" height="2" fill="#e9edf0"/>
<rect x="18.3" y="461.4" width="19.4" height="6.4" fill="#5b7fe0"/>
<text transform="translate(48,470.2) scale(1,1.05)" font-size="15.6" fill="#777">RSI</text>
<rect x="93.8" y="461.4" width="19.8" height="6.4" fill="#f00"/>
<text transform="translate(124,470.2) scale(1,1.05)" font-size="15.6" fill="#777">9MA</text>
<line x1="14.5" y1="498.2" x2="800" y2="498.2" stroke="#c4c4c4" stroke-width="1.6" stroke-dasharray="1.4 4.82"/>
<line x1="14.5" y1="527.6" x2="800" y2="527.6" stroke="#c4c4c4" stroke-width="1.6" stroke-dasharray="1.4 4.82"/>
<line x1="14.5" y1="556.2" x2="800" y2="556.2" stroke="#c4c4c4" stroke-width="1.6" stroke-dasharray="1.4 4.82"/>
<path d="M18.3,507.2 C19.2,508.2 22.5,511.6 24.2,513.7 C25.9,515.8 28.0,520.7 29.7,520.9 C31.4,521.1 33.6,516.2 35.2,514.8 C36.8,513.4 38.9,510.9 40.6,511.5 C42.3,512.1 45.0,518.4 46.8,518.8 C48.6,519.2 51.2,514.6 52.7,514.4 C54.2,514.2 55.5,516.8 57.0,517.4 C58.5,518.0 60.8,517.2 62.5,518.1 C64.2,519.0 66.9,523.3 68.6,523.1 C70.2,522.9 72.0,518.1 73.5,517.0 C75.0,515.9 77.1,515.3 78.9,515.9 C80.7,516.5 83.7,520.7 85.5,520.9 C87.3,521.1 89.3,517.8 91.0,517.4 C92.7,517.0 95.4,515.3 97.1,518.1 C98.8,520.9 100.7,533.9 102.3,536.3 C103.9,538.7 106.3,534.1 108.0,534.1 C109.7,534.1 111.6,536.6 113.3,536.3 C115.0,536.0 117.3,531.8 119.0,531.9 C120.7,532.0 123.3,535.4 124.9,536.7 C126.5,538.0 128.3,540.8 129.9,540.6 C131.5,540.4 134.1,538.3 135.8,535.6 C137.5,532.9 139.6,525.5 141.3,522.5 C143.0,519.5 145.8,516.7 147.4,515.9 C149.0,515.1 150.5,517.5 152.2,517.0 C153.8,516.5 156.6,512.1 158.4,512.6 C160.2,513.1 162.6,518.6 164.3,520.3 C166.0,521.9 168.1,521.9 169.7,523.6 C171.3,525.3 173.5,531.3 175.2,531.9 C176.8,532.5 179.1,528.4 180.7,527.9 C182.3,527.4 184.5,525.9 186.1,528.4 C187.7,530.9 189.9,543.2 191.6,544.4 C193.2,545.6 195.4,537.8 197.1,536.3 C198.8,534.8 200.9,534.3 202.6,534.5 C204.3,534.7 206.7,535.8 208.4,537.5 C210.1,539.2 212.5,544.7 214.2,545.9 C215.9,547.1 218.0,547.0 219.7,545.5 C221.3,544.0 223.6,536.1 225.2,535.6 C226.8,535.1 228.9,539.7 230.6,542.2 C232.3,544.7 234.7,551.5 236.5,552.0 C238.3,552.5 241.0,546.6 242.7,545.5 C244.4,544.4 246.5,544.4 248.1,544.4 C249.7,544.4 252.0,545.2 253.6,545.5 C255.2,545.8 257.0,547.4 258.6,546.6 C260.2,545.8 262.9,542.3 264.6,540.0 C266.3,537.7 268.4,533.3 270.0,531.2 C271.6,529.1 273.8,526.8 275.5,526.2 C277.2,525.6 279.7,525.6 281.4,526.9 C283.1,528.2 285.4,534.0 287.1,535.0 C288.8,536.0 291.3,534.2 293.0,533.4 C294.7,532.6 296.9,530.0 298.5,529.7 C300.1,529.4 302.3,532.2 303.9,531.2 C305.5,530.2 307.8,524.7 309.4,523.1 C311.0,521.5 313.2,521.5 314.9,520.3 C316.5,519.1 318.8,515.8 320.4,515.3 C322.0,514.8 324.2,516.9 325.8,517.0 C327.4,517.1 329.7,515.5 331.3,515.9 C332.9,516.3 335.2,518.3 336.8,519.6 C338.4,520.9 340.6,522.3 342.2,524.7 C343.8,527.1 346.0,532.1 347.7,535.6 C349.4,539.1 352.1,548.3 353.8,548.1 C355.5,547.9 357.6,537.8 359.3,534.5 C361.0,531.2 363.5,527.6 365.2,525.8 C366.9,524.0 369.1,523.2 370.7,522.5 C372.3,521.8 374.5,521.2 376.1,521.4 C377.7,521.6 380.0,522.0 381.6,523.6 C383.2,525.2 385.4,531.8 387.1,531.9 C388.8,532.0 391.1,525.7 392.9,524.3 C394.7,522.9 397.1,523.3 398.8,522.5 C400.5,521.7 402.6,519.0 404.2,518.8 C405.8,518.6 408.2,520.9 409.7,520.9 C411.2,520.9 412.9,518.2 414.5,518.8 C416.1,519.4 418.8,522.0 420.6,524.7 C422.4,527.4 425.0,536.0 426.8,537.1 C428.6,538.2 431.1,534.3 432.7,532.3 C434.3,530.3 436.1,524.9 437.7,523.6 C439.3,522.3 441.9,523.6 443.6,523.6 C445.3,523.6 447.6,523.9 449.1,523.6 C450.6,523.3 452.3,521.1 453.9,521.8 C455.5,522.5 458.3,527.2 460.0,528.4 C461.7,529.6 463.9,529.4 465.5,530.1 C467.1,530.9 469.3,532.0 471.0,533.4 C472.7,534.8 475.4,539.3 477.1,539.3 C478.8,539.3 480.7,533.5 482.3,533.4 C483.9,533.3 486.4,537.4 488.0,538.5 C489.6,539.6 491.7,539.6 493.3,540.6 C494.9,541.6 497.3,544.9 499.0,545.0 C500.7,545.1 503.2,542.2 504.9,541.5 C506.6,540.8 508.8,540.6 510.4,540.0 C512.0,539.4 514.2,538.8 515.8,537.8 C517.4,536.8 519.6,534.1 521.3,533.4 C522.9,532.6 525.2,535.0 526.8,532.8 C528.4,530.6 530.5,519.8 532.2,518.8 C533.9,517.8 536.7,523.2 538.4,525.8 C540.1,528.4 542.2,536.0 543.8,536.3 C545.4,536.6 547.6,529.8 549.3,527.9 C551.0,526.0 553.5,524.3 555.2,523.6 C556.9,522.9 559.1,522.1 560.7,523.1 C562.3,524.1 564.5,528.4 566.1,530.1 C567.7,531.8 570.0,534.0 571.6,534.5 C573.2,535.0 575.5,535.2 577.1,533.4 C578.8,531.6 580.9,522.8 582.6,522.5 C584.3,522.2 586.6,531.2 588.3,531.2 C590.0,531.2 592.5,524.3 594.2,522.5 C595.9,520.7 598.1,518.7 599.7,519.2 C601.4,519.7 603.6,524.0 605.2,525.8 C606.8,527.6 608.9,528.2 610.6,531.2 C612.3,534.2 614.8,545.8 616.5,545.5 C618.2,545.2 620.3,531.5 622.0,529.0 C623.7,526.5 626.0,529.8 627.7,529.0 C629.4,528.2 631.6,520.8 633.2,523.6 C634.8,526.4 637.0,544.1 638.6,547.6 C640.2,551.1 642.4,549.0 644.1,546.6 C645.8,544.2 648.3,533.7 650.0,531.9 C651.7,530.1 653.8,533.4 655.5,534.5 C657.2,535.6 659.7,539.0 661.4,539.3 C663.1,539.6 665.5,537.5 667.1,536.3 C668.7,535.1 670.7,531.3 672.3,531.2 C673.9,531.1 676.4,535.0 678.0,535.6 C679.6,536.2 681.6,535.9 683.3,535.0 C684.9,534.1 687.3,530.3 689.0,529.7 C690.7,529.1 693.2,530.5 694.9,531.2 C696.6,531.9 698.8,534.9 700.4,534.5 C702.0,534.1 704.2,529.7 705.8,528.4 C707.4,527.1 709.6,531.4 711.3,525.8 C712.9,520.2 715.2,495.1 716.8,490.8 C718.4,486.5 720.5,496.1 722.2,496.9 C723.9,497.7 726.6,496.4 728.4,496.2 C730.2,496.0 732.6,495.7 734.3,495.8 C736.0,495.9 738.9,496.7 739.7,496.9" fill="none" stroke="#7a98ea" stroke-width="1.0" stroke-linejoin="round"/>
<line x1="745" y1="497.4" x2="800" y2="497.4" stroke="#6f8fe6" stroke-width="1.5" stroke-dasharray="1.5 4.8"/>
<path d="M18.3,507.8 C21.9,508.5 24.8,509.1 31.9,510.4 C39.0,511.7 38.0,511.5 45.0,512.6 C52.0,513.7 51.1,513.2 58.1,514.4 C65.1,515.6 64.3,516.2 71.3,517.0 C78.3,517.8 77.4,516.9 84.4,517.4 C91.4,517.9 91.1,517.4 97.5,518.8 C103.9,520.2 102.7,520.6 108.5,522.5 C114.3,524.4 113.6,523.6 119.4,525.8 C125.2,528.0 125.1,528.7 130.4,530.6 C135.7,532.5 134.4,532.5 139.1,532.8 C143.8,533.1 142.6,533.2 147.9,531.9 C153.2,530.6 153.0,529.8 158.8,527.9 C164.6,526.0 163.9,526.1 169.7,524.7 C175.5,523.3 176.3,523.3 180.7,522.5 C185.1,521.7 182.0,520.9 186.1,521.8 C190.2,522.7 189.4,522.9 196.0,525.8 C202.6,528.7 204.0,529.9 210.9,532.8 C217.8,535.7 216.1,534.8 221.9,536.7 C227.7,538.6 227.0,538.7 232.8,540.0 C238.6,541.3 236.8,540.2 243.8,541.5 C250.8,542.8 252.1,544.7 259.1,545.0 C266.1,545.3 262.4,544.7 270.0,542.8 C277.6,540.9 278.8,540.3 287.5,537.8 C296.2,535.3 294.6,536.1 302.8,533.4 C311.0,530.7 310.6,529.8 318.2,527.5 C325.8,525.2 324.9,526.2 331.3,524.7 C337.7,523.2 336.4,522.1 342.2,521.8 C348.0,521.5 346.8,522.4 353.2,523.6 C359.6,524.8 359.3,525.1 366.3,526.2 C373.3,527.3 373.6,527.0 379.4,527.9 C385.2,528.8 383.0,529.7 388.2,529.7 C393.4,529.7 393.7,529.4 398.8,527.9 C403.9,526.4 402.3,525.3 407.5,524.0 C412.7,522.7 412.6,522.6 418.4,523.1 C424.2,523.6 423.6,525.4 429.4,525.8 C435.2,526.2 433.9,525.0 440.3,524.7 C446.7,524.4 446.5,524.0 453.5,524.7 C460.5,525.4 459.0,526.5 466.6,527.5 C474.2,528.5 474.9,527.1 481.9,528.4 C488.9,529.7 487.0,530.1 492.8,532.3 C498.6,534.5 498.0,534.9 503.8,536.7 C509.6,538.5 508.9,538.3 514.7,538.9 C520.5,539.5 519.3,539.8 525.7,538.9 C532.1,538.0 532.4,537.2 538.8,535.6 C545.2,534.0 543.3,534.9 549.7,532.8 C556.1,530.7 555.9,529.2 562.9,527.9 C569.9,526.6 568.5,527.9 576.0,527.9 C583.5,527.9 584.0,528.2 590.9,527.9 C597.8,527.6 596.1,526.8 601.9,526.9 C607.7,527.0 607.0,527.8 612.8,528.4 C618.6,529.0 618.0,528.8 623.8,529.0 C629.6,529.2 628.9,527.8 634.7,529.0 C640.5,530.2 639.2,531.5 645.6,533.4 C652.0,535.3 651.8,535.9 658.8,536.3 C665.8,536.7 665.5,534.8 671.9,535.0 C678.3,535.2 677.0,537.2 682.8,537.1 C688.6,537.0 688.5,535.3 693.8,534.5 C699.1,533.7 697.8,534.7 702.5,534.1 C707.2,533.5 706.6,534.6 711.3,532.3 C716.0,530.0 715.3,529.1 720.0,525.3 C724.7,521.5 723.7,522.1 728.8,518.1 C733.9,514.1 736.5,512.5 739.3,510.4" fill="none" stroke="#f83a3a" stroke-width="1.25" stroke-linejoin="round"/>
<text transform="translate(814.2,504.2) scale(1,1.05)" font-size="16.8" fill="#6e6e6e">70</text>
<text transform="translate(814.2,533.6) scale(1,1.05)" font-size="16.8" fill="#6e6e6e">50</text>
<text transform="translate(814.2,561.4) scale(1,1.05)" font-size="16.8" fill="#6e6e6e">30</text>
<path d="M14.2,583.6 L14.2,574.5 L799.6,574.5 L799.6,583.6" fill="none" stroke="#b2b2b8" stroke-width="2.8"/>
<text transform="translate(191.7,600.6) scale(1,1.05)" font-size="17" text-anchor="middle" fill="#7c7c7c">Jan 15</text>
<text transform="translate(460,600.6) scale(1,1.05)" font-size="17" text-anchor="middle" fill="#7c7c7c">Jan 16</text>
<text transform="translate(717,600.6) scale(1,1.05)" font-size="17" text-anchor="middle" fill="#7c7c7c">Jan 19</text>
</g></svg></body></html>
